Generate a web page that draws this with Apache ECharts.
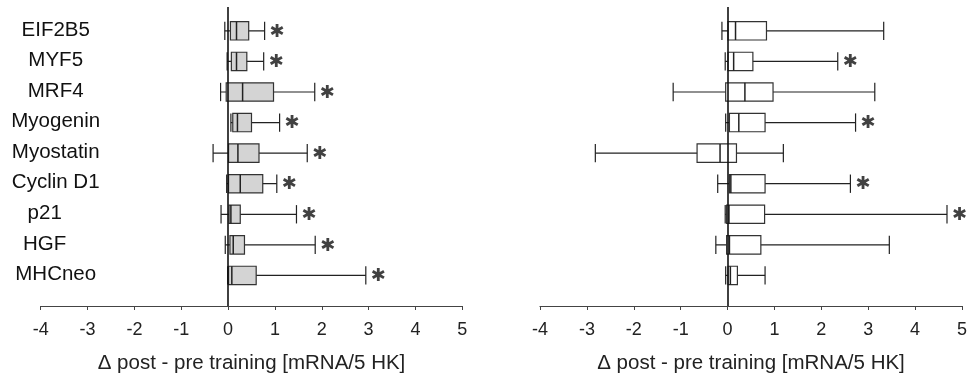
<!DOCTYPE html>
<html>
<head>
<meta charset="utf-8">
<script src="https://cdn.jsdelivr.net/npm/echarts@6/dist/echarts.min.js"></script>
<style>
  html, body { margin: 0; padding: 0; background: #fff; }
  #chart { width: 973px; height: 375px; }
</style>
</head>
<body>
<div id="chart"></div>
<script>
// genes, top to bottom
const genes = ['EIF2B5', 'MYF5', 'MRF4', 'Myogenin', 'Myostatin', 'Cyclin D1', 'p21', 'HGF', 'MHCneo']
const ticks = [-4, -3, -2, -1, 0, 1, 2, 3, 4, 5]

// left panel: [low, q1, median, q3, high]
const leftBoxes = [
  [-0.07, 0.05, 0.18, 0.44, 0.78],
  [-0.02, 0.07, 0.18, 0.40, 0.76],
  [-0.16, -0.04, 0.31, 0.97, 1.85],
  [0.06, 0.10, 0.20, 0.50, 1.10],
  [-0.32, 0.01, 0.21, 0.66, 1.69],
  [-0.03, 0.01, 0.26, 0.74, 1.04],
  [-0.15, 0.02, 0.06, 0.26, 1.46],
  [-0.06, 0.04, 0.11, 0.35, 1.86],
  [-0.01, 0.01, 0.08, 0.60, 2.94]
]
const leftStars = [1, 1, 1, 1, 1, 1, 1, 1, 1]

// right panel
const rightBoxes = [
  [-0.12, 0.01, 0.17, 0.83, 3.33],
  [-0.05, 0.01, 0.13, 0.54, 2.35],
  [-1.16, -0.04, 0.37, 0.97, 3.14],
  [-0.04, 0.04, 0.24, 0.80, 2.73],
  [-2.82, -0.65, -0.16, 0.19, 1.19],
  [-0.21, 0.04, 0.07, 0.80, 2.62],
  [-0.05, -0.02, 0.03, 0.79, 4.68],
  [-0.25, -0.02, 0.04, 0.71, 3.45],
  [-0.04, 0.01, 0.06, 0.21, 0.80]
]
const rightStars = [0, 1, 0, 1, 0, 1, 1, 0, 0]

const chart = echarts.init(document.getElementById('chart'))
const font = 'Liberation Sans, Arial, Helvetica, sans-serif'

const boxRender = (fill) => (params, api) => {
  const row = api.value(0)
  const lo = api.coord([api.value(1), row])
  const q1 = api.coord([api.value(2), row])
  const md = api.coord([api.value(3), row])
  const q3 = api.coord([api.value(4), row])
  const hi = api.coord([api.value(5), row])
  const h = api.size([0, 0.3])[1]
  const y = lo[1]
  const line = { stroke: '#222', lineWidth: 1.2 }
  return {
    type: 'group',
    children: [
      { type: 'line', shape: { x1: lo[0], y1: y, x2: hi[0], y2: y }, style: line },
      { type: 'line', shape: { x1: lo[0], y1: y - h, x2: lo[0], y2: y + h }, style: line },
      { type: 'line', shape: { x1: hi[0], y1: y - h, x2: hi[0], y2: y + h }, style: line },
      { type: 'rect', shape: { x: q1[0], y: y - h, width: q3[0] - q1[0], height: 2 * h },
        style: { fill: fill, stroke: '#333', lineWidth: 1.2 } },
      { type: 'line', shape: { x1: md[0], y1: y - h, x2: md[0], y2: y + h }, style: { stroke: '#222', lineWidth: 1.5 } }
    ]
  }
}

const makeX = (gi) => ({
  type: 'value', gridIndex: gi, min: -4, max: 5, interval: 1,
  splitLine: { show: false },
  axisLine: { onZero: false, lineStyle: { color: '#444', width: 1.2 } },
  axisTick: { length: 4, lineStyle: { color: '#444' } },
  axisLabel: { color: '#222', fontSize: 18, fontFamily: font, margin: 15,
    customValues: ticks },
  name: '\u0394 post - pre training [mRNA/5 HK]',
  nameLocation: 'middle', nameGap: 47,
  nameTextStyle: { color: '#222', fontSize: 20.5, fontFamily: font }
})

const makeY = (gi, showLabels) => ({
  type: 'value', gridIndex: gi, inverse: true, min: -0.78, max: 9,
  splitLine: { show: false }, axisLine: { show: false }, axisTick: { show: false },
  axisLabel: {
    show: showLabels, inside: true, align: 'center', margin: 15,
    customValues: genes.map((g, i) => i),
    formatter: (v) => {
      const name = genes[v]
      return (name === 'p21' || name === 'HGF') ? '{s|' + name + '}' : '{n|' + name + '}'
    },
    rich: {
      n: { fontSize: 20.5, fontFamily: font, color: '#111', padding: [0, 0, 2, 0] },
      s: { fontSize: 20.5, fontFamily: font, color: '#111', padding: [0, 22, 2, 0] }
    }
  }
})

const boxData = (boxes) => boxes.map((b, i) => [i].concat(b))
const starData = (boxes, stars) => boxes.map((b, i) => stars[i] ? [b[4], i] : null).filter(d => d)

const zeroLine = {
  silent: true, symbol: 'none',
  lineStyle: { color: '#111', width: 1.6, type: 'solid' },
  label: { show: false },
  data: [{ xAxis: 0 }]
}

const starSeries = (gi, boxes, stars) => ({
  type: 'scatter', xAxisIndex: gi, yAxisIndex: gi,
  symbolSize: 0, silent: true,
  data: starData(boxes, stars),
  label: { show: true, formatter: '\u2731', position: 'right', distance: 5, offset: [0, 1],
    fontSize: 18, color: '#111', fontFamily: 'DejaVu Sans' }
})

chart.setOption({
  animation: false,
  grid: [
    { left: 40.7, width: 421.6, top: 7, height: 299, outerBoundsMode: 'none' },
    { left: 540, width: 422, top: 7, height: 299, outerBoundsMode: 'none' }
  ],
  xAxis: [makeX(0), makeX(1)],
  yAxis: [makeY(0, true), makeY(1, false)],
  series: [
    { type: 'custom', xAxisIndex: 0, yAxisIndex: 0, renderItem: boxRender('#d4d4d4'),
      data: boxData(leftBoxes), encode: { x: [1, 2, 3, 4, 5], y: 0 }, markLine: zeroLine },
    { type: 'custom', xAxisIndex: 1, yAxisIndex: 1, renderItem: boxRender('#ffffff'),
      data: boxData(rightBoxes), encode: { x: [1, 2, 3, 4, 5], y: 0 }, markLine: zeroLine },
    starSeries(0, leftBoxes, leftStars),
    starSeries(1, rightBoxes, rightStars)
  ]
})
</script>
</body>
</html>
